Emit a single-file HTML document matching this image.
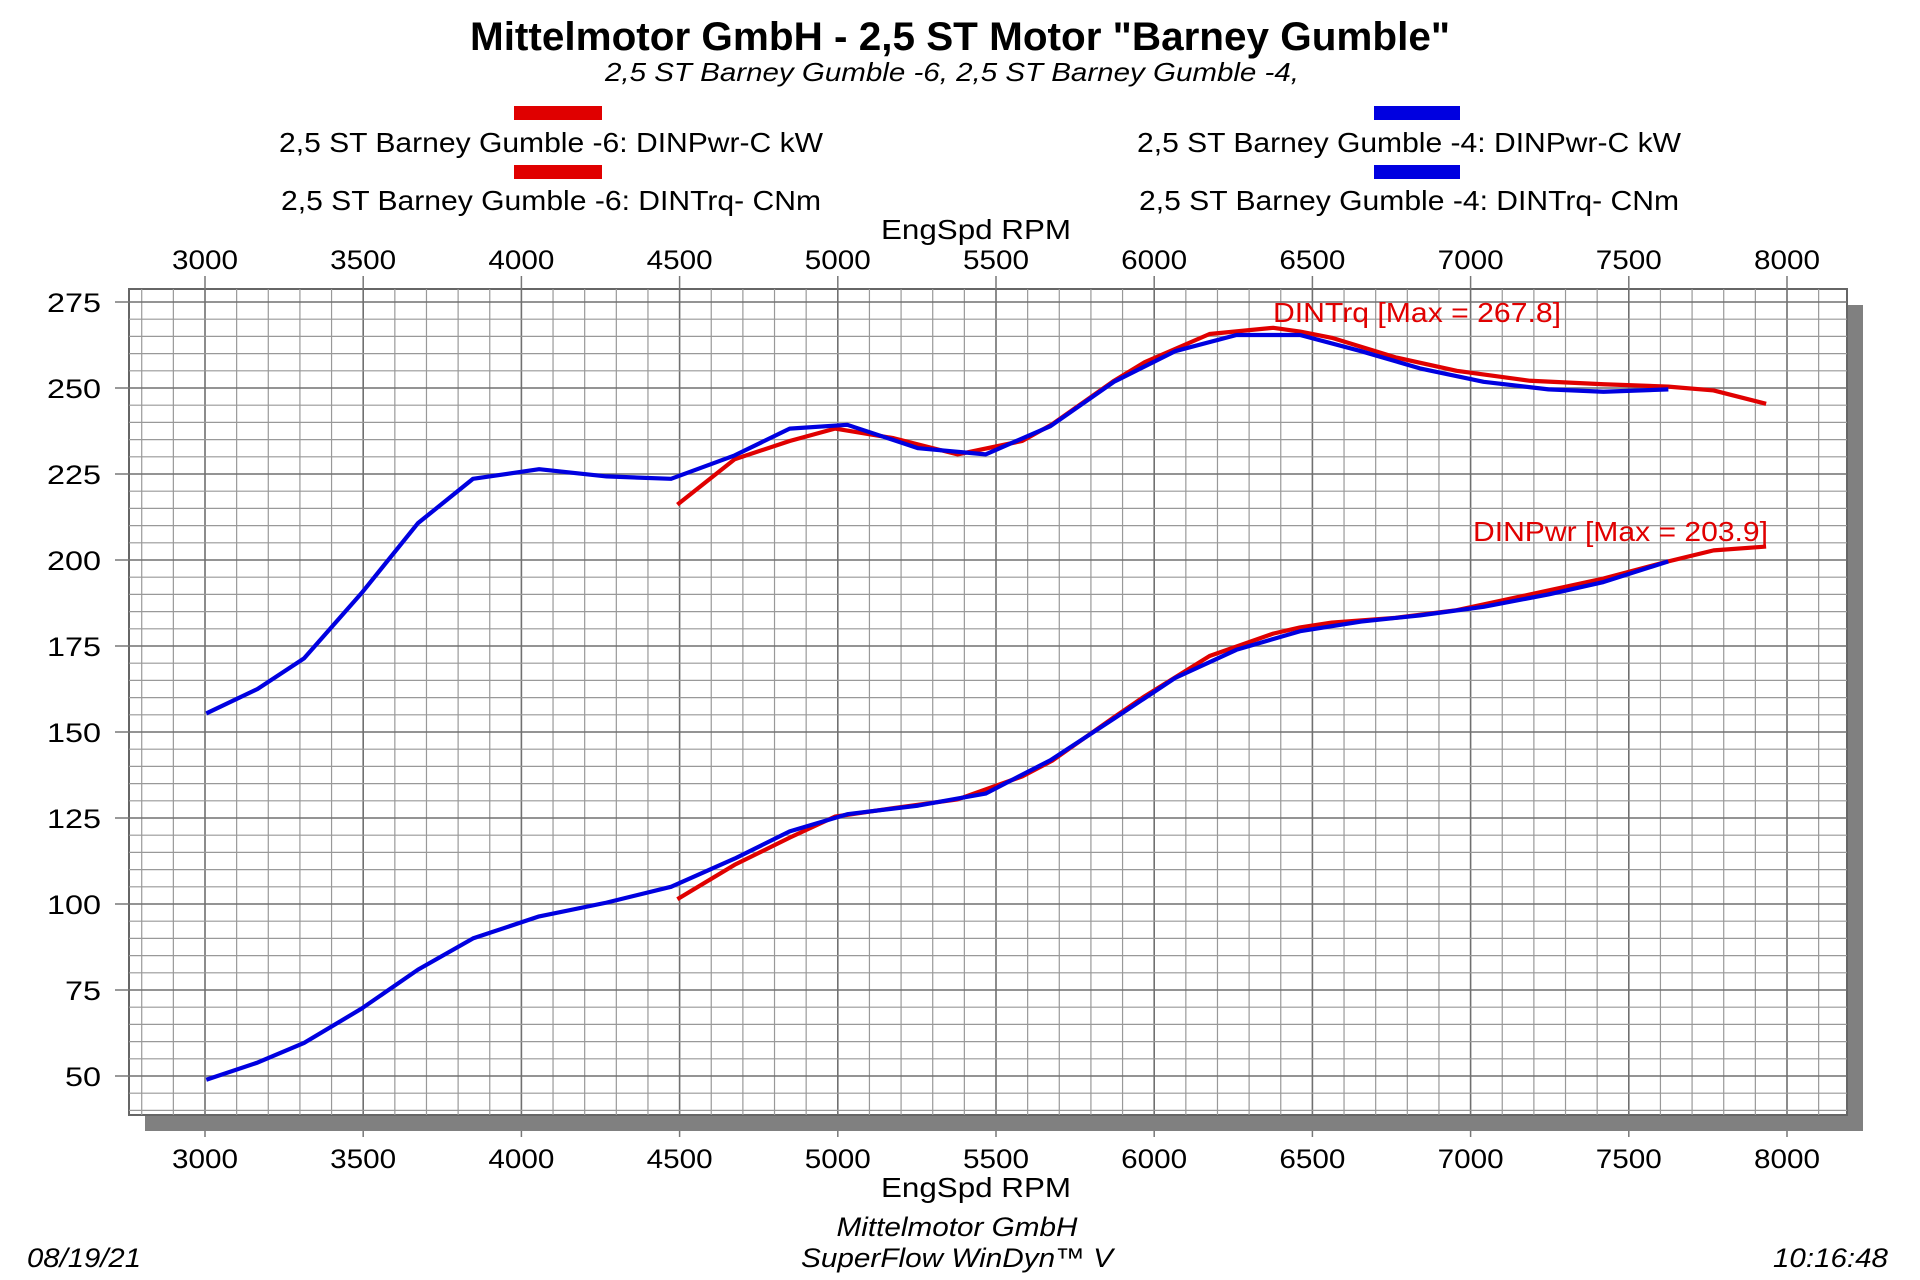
<!DOCTYPE html>
<html><head><meta charset="utf-8"><style>
html,body{margin:0;padding:0;background:#fff;}
svg{display:block;font-family:"Liberation Sans",Arial,sans-serif;}
</style></head><body>
<svg id="c" width="1920" height="1280" viewBox="0 0 1920 1280">
<text x="960" y="50" text-anchor="middle" font-size="40" font-weight="bold" textLength="980" lengthAdjust="spacingAndGlyphs">Mittelmotor GmbH - 2,5 ST Motor "Barney Gumble"</text>
<text x="952" y="81" text-anchor="middle" font-size="26" font-style="italic" textLength="694" lengthAdjust="spacingAndGlyphs">2,5 ST Barney Gumble -6, 2,5 ST Barney Gumble -4,</text>
<g>
<rect x="514" y="106" width="88" height="14" fill="#e00000"/>
<text x="551" y="152" text-anchor="middle" font-size="28" textLength="544" lengthAdjust="spacingAndGlyphs">2,5 ST Barney Gumble -6: DINPwr-C kW</text>
<rect x="514" y="165" width="88" height="14" fill="#e00000"/>
<text x="551" y="210" text-anchor="middle" font-size="28" textLength="540" lengthAdjust="spacingAndGlyphs">2,5 ST Barney Gumble -6: DINTrq- CNm</text>
<rect x="1374" y="106" width="86" height="14" fill="#0000e0"/>
<text x="1409" y="152" text-anchor="middle" font-size="28" textLength="544" lengthAdjust="spacingAndGlyphs">2,5 ST Barney Gumble -4: DINPwr-C kW</text>
<rect x="1374" y="165" width="86" height="14" fill="#0000e0"/>
<text x="1409" y="210" text-anchor="middle" font-size="28" textLength="540" lengthAdjust="spacingAndGlyphs">2,5 ST Barney Gumble -4: DINTrq- CNm</text>
</g>
<text x="976" y="239" text-anchor="middle" font-size="28" textLength="190" lengthAdjust="spacingAndGlyphs">EngSpd  RPM</text>
<text x="976" y="1197" text-anchor="middle" font-size="28" textLength="190" lengthAdjust="spacingAndGlyphs">EngSpd  RPM</text>
<text x="957" y="1236" text-anchor="middle" font-size="27" font-style="italic" textLength="241" lengthAdjust="spacingAndGlyphs">Mittelmotor GmbH</text>
<text x="957" y="1267" text-anchor="middle" font-size="27" font-style="italic" textLength="312" lengthAdjust="spacingAndGlyphs">SuperFlow WinDyn™ V</text>
<text x="27" y="1267" font-size="27" font-style="italic" textLength="114" lengthAdjust="spacingAndGlyphs">08/19/21</text>
<text x="1888" y="1267" text-anchor="end" font-size="27" font-style="italic" textLength="115" lengthAdjust="spacingAndGlyphs">10:16:48</text>
<rect x="145" y="305" width="1718" height="826" fill="#808080"/>
<rect x="129" y="289" width="1718" height="826" fill="#fff" stroke="#666" stroke-width="2"/>
<g id="grid"></g>
<g id="axes"></g>
<g id="series"></g>
<text x="1273" y="322" font-size="28" fill="#e00000" textLength="288" lengthAdjust="spacingAndGlyphs">DINTrq [Max = 267.8]</text>
<text x="1473" y="541" font-size="28" fill="#e00000" textLength="295" lengthAdjust="spacingAndGlyphs">DINPwr [Max = 203.9]</text>
</svg>
<script>
const xTicks=[3000,3500,4000,4500,5000,5500,6000,6500,7000,7500,8000];
const yTicks=[50,75,100,125,150,175,200,225,250,275];
const blueRpm=[3004,3166,3313,3495,3673,3847,4056,4269,4473,4674,4848,5030,5254,5467,5672,5873,6066,6260,6461,6654,6840,7041,7246,7420,7625];
const blueTrq=[155.4,162.5,171.4,190.4,210.7,223.6,226.4,224.3,223.6,230.4,238.2,239.3,232.5,230.7,238.9,251.8,260.7,265.4,265.4,260.7,255.7,251.8,249.6,248.9,249.6];
const bluePwr=[48.9,53.9,59.6,69.6,80.9,90,96.4,100.4,105,113.2,121.1,126.1,128.6,132.1,141.8,153.9,165.7,173.9,179.3,182.1,183.9,186.4,190,193.6,199.6];
const redRpm=[4493,4674,4848,4991,5177,5378,5583,5680,5873,5970,6175,6376,6461,6561,6763,6956,7188,7420,7625,7768,7934];
const redTrq=[216.1,229.3,234.6,238.2,235.4,230.7,234.6,239.6,252.1,257.5,265.7,267.5,266.4,264.6,258.9,255,252.1,251.1,250.4,249.3,245.4];
const redPwr=[101.4,111.4,119.3,125.4,127.9,130.4,137.1,141.8,154.3,160.4,172.1,178.6,180.4,181.8,183.2,185.4,190,194.6,199.6,202.8,203.9];

const NS='http://www.w3.org/2000/svg';
const X=r=>205+(r-3000)*0.3164;
const Y=v=>302+(275-v)*3.44;
const L=129,R=1847,T=289,B=1115;
function mk(tag,attrs,parent){const e=document.createElementNS(NS,tag);for(const k in attrs)e.setAttribute(k,attrs[k]);parent.appendChild(e);return e;}
const grid=document.getElementById('grid'),axes=document.getElementById('axes'),series=document.getElementById('series');
for(let r=2800;r<=8100;r+=100){const x=X(r);if(x<=L||x>=R)continue;
 const ln=mk('line',{x1:x,x2:x,y1:T,y2:B,stroke:r%500===0?'#707070':'#999','stroke-width':r%500===0?1.6:1.2},grid);
 
 }
for(let v=40;v<=280;v+=5){const y=Y(v);if(y<=T||y>=B)continue;
 const ln=mk('line',{x1:L,x2:R,y1:y,y2:y,stroke:v%25===0?'#707070':'#999','stroke-width':v%25===0?1.6:1.2},grid);
 
 }
xTicks.forEach(r=>{const x=X(r);
 mk('line',{x1:x,x2:x,y1:T-13,y2:T,stroke:'#777','stroke-width':1.5},axes);
 mk('line',{x1:x,x2:x,y1:B+16,y2:B+22,stroke:'#777','stroke-width':1.5},axes);
 const t1=mk('text',{x:x,y:269,'text-anchor':'middle','font-size':27,textLength:66,lengthAdjust:'spacingAndGlyphs'},axes);t1.textContent=r;
 
 
 const t2=mk('text',{x:x,y:1168,'text-anchor':'middle','font-size':27,textLength:66,lengthAdjust:'spacingAndGlyphs'},axes);t2.textContent=r;
 
 });
yTicks.forEach(v=>{const y=Y(v);
 mk('line',{x1:115,x2:L,y1:y,y2:y,stroke:'#777','stroke-width':1.5},axes);
 const s=String(v);
 const t=mk('text',{x:101,y:y+10,'text-anchor':'end','font-size':27,textLength:s.length*18,lengthAdjust:'spacingAndGlyphs'},axes);t.textContent=s;
 
 });
function line(xs,ys,col,name){const p=mk('polyline',{points:xs.map((r,i)=>X(r)+','+Y(ys[i])).join(' '),fill:'none',stroke:col,'stroke-width':4.2,'stroke-linejoin':'round'},series);
 
 }
line(redRpm,redTrq,'#e00000','red-torque-line');
line(redRpm,redPwr,'#e00000','red-power-line');
line(blueRpm,blueTrq,'#0000e0','blue-torque-line');
line(blueRpm,bluePwr,'#0000e0','blue-power-line');
</script>
</body></html>
